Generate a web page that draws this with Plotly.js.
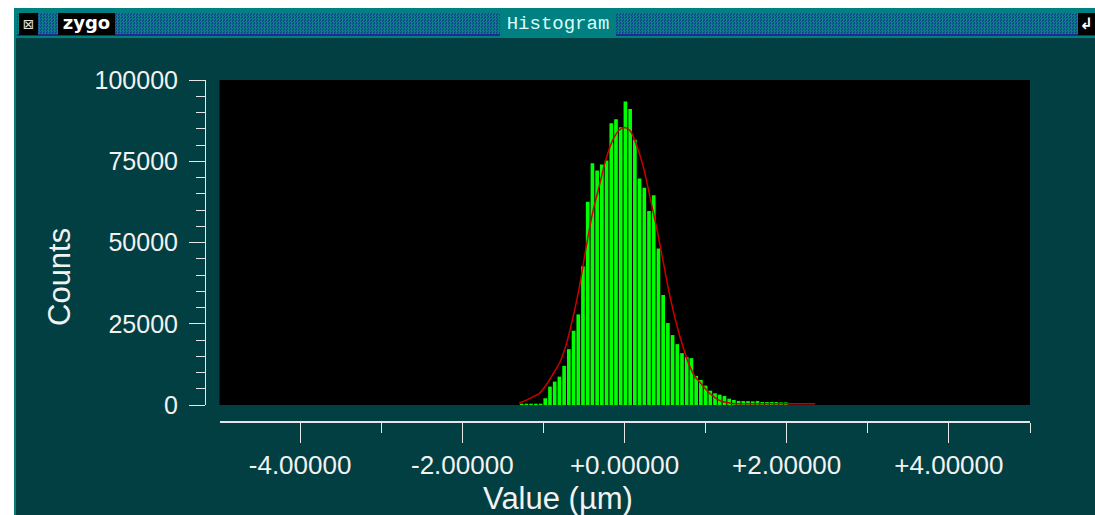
<!DOCTYPE html>
<html><head><meta charset="utf-8">
<script src="https://cdn.plot.ly/plotly-3.0.1.min.js"></script>
<style>
html,body{margin:0;padding:0;background:#ffffff;width:1095px;height:515px;overflow:hidden;}
#win{position:absolute;left:14px;top:8px;width:1081px;height:507px;background:#023f42;}
#frame{position:absolute;left:14px;top:8px;width:1081px;height:30px;background:#008080;}
#leftb{position:absolute;left:14px;top:8px;width:2px;height:507px;background:#0b7a7a;}
#tbar{position:absolute;left:17px;top:13px;width:1078px;height:21px;background-color:#0c6a84;
  background-image:repeating-conic-gradient(#0a8088 0 25%, #13488e 0 50%);background-size:3px 3px;border-bottom:2px solid #1c2c90;}
#icon{position:absolute;left:19px;top:13px;width:19px;height:22px;background:#000;color:#e0e0e0;font:14px "DejaVu Sans";line-height:22px;text-align:center;}
#logo{position:absolute;left:58px;top:13px;width:57px;height:22px;background:#000;color:#fff;font:bold 18px "DejaVu Sans";line-height:20px;text-align:center;}
#ttl{position:absolute;left:500px;top:13px;width:116px;height:23px;background:#008080;color:#d8ffff;font:19px "Liberation Mono";line-height:23px;text-align:center;}
#rico{position:absolute;left:1078px;top:13px;width:17px;height:22px;background:#000;color:#fff;font:bold 16px "DejaVu Sans";line-height:22px;text-align:center;}
#plot{position:absolute;left:0;top:0;width:1095px;height:515px;}
</style>
</head><body>
<div id="win"></div>
<div id="leftb"></div>
<div id="plot"></div>
<div id="frame"></div>
<div id="tbar"></div>
<div id="icon">⊠</div>
<div id="logo">zygo</div>
<div id="ttl">Histogram</div>
<div id="rico">↲</div>
<script>
// Histogram bins (regular bins: first bin centre and bin width, in µm)
const binStart = -1.268;
const binWidth = 0.05815;
const counts = [400, 400, 400, 400, 400, 2070, 5650, 7200, 8730, 12040,
  17180, 22840, 27870, 42690, 62560, 74380, 72120, 73980, 75210, 86730,
  87960, 85490, 93420, 91050, 81580, 69660, 66870, 59670, 64510, 48150,
  33850, 25210, 21510, 18730, 15950, 14720, 14410, 8950, 7720, 5960,
  4410, 3600, 3180, 2780, 1940, 1540, 1230, 1200, 1200, 1100,
  1200, 900, 900, 900, 900, 800, 800];

// Fitted curve
const fitX = [-1.30, -1.21, -1.13, -1.05, -0.97, -0.89, -0.80, -0.72, -0.64, -0.56,
  -0.47, -0.39, -0.31, -0.23, -0.14, -0.06, 0.00, 0.07, 0.15, 0.23,
  0.31, 0.40, 0.48, 0.56, 0.64, 0.72, 0.80, 0.87, 0.93, 0.99,
  1.05, 1.11, 1.17, 1.23, 1.34, 1.60, 2.00, 2.35];
const fitY = [600, 1500, 2500, 3600, 6000, 9200, 13000, 18500, 26500, 35800,
  49000, 59500, 67500, 75500, 81800, 84700, 85400, 84400, 79800, 73500,
  64500, 54000, 43700, 33500, 25000, 18000, 12200, 8700, 7000, 5200,
  3600, 2400, 1400, 900, 500, 400, 400, 400];

const xTickVals = [-4, -2, 0, 2, 4];
const xTickText = ['-4.00000', '-2.00000', '+0.00000', '+2.00000', '+4.00000'];
const yTickVals = [0, 25000, 50000, 75000, 100000];
const yTickText = ['0', '25000', '50000', '75000', '100000'];
const xTitle = 'Value (µm)';
const yTitle = 'Counts';

const W = 1095, H = 515;
const L = 190, R = 1030, T = 80, B = 445;
const pw = R - L, ph = B - T;
const px = v => (v - L) / pw;
const py = v => (B - v) / ph;

const axisCol = '#e6e6e6';
const textCol = '#f2f2f2';
const font = 'Liberation Sans, Arial, sans-serif';

const traces = [
  {type: 'bar', x0: binStart, dx: binWidth, y: counts,
   marker: {color: '#00ff00', line: {width: 0}}, hoverinfo: 'skip'},
  {type: 'scatter', mode: 'lines', x: fitX, y: fitY,
   line: {color: '#cc0000', width: 1.5, shape: 'spline'}, hoverinfo: 'skip'}
];

const layout = {
  width: W, height: H,
  margin: {l: L, r: W - R, t: T, b: H - B, pad: 0},
  paper_bgcolor: 'rgba(0,0,0,0)',
  plot_bgcolor: '#000000',
  showlegend: false,
  bargap: 0.22,
  xaxis: {
    domain: [px(219.5), 1], range: [-4.994, 5], anchor: 'free', position: py(422),
    showline: true, linecolor: axisCol, linewidth: 2,
    ticks: 'outside', ticklen: 20, tickwidth: 1, tickcolor: axisCol,
    tickmode: 'array', tickvals: xTickVals, ticktext: xTickText,
    tickfont: {family: font, size: 26, color: textCol}, ticklabelstandoff: 0,
    minor: {tickmode: 'linear', tick0: -5, dtick: 1, ticks: 'outside', ticklen: 10, tickwidth: 1, tickcolor: axisCol, showgrid: false},
    showgrid: false, zeroline: false, fixedrange: true
  },
  yaxis: {
    domain: [py(405), 1], range: [0, 100000], anchor: 'free', position: px(205),
    showline: true, linecolor: axisCol, linewidth: 1,
    ticks: 'outside', ticklen: 16, tickwidth: 1, tickcolor: axisCol,
    tickmode: 'array', tickvals: yTickVals, ticktext: yTickText,
    tickfont: {family: font, size: 25, color: textCol}, ticklabelstandoff: 6,
    minor: {tickmode: 'linear', tick0: 0, dtick: 5000, ticks: 'outside', ticklen: 9, tickwidth: 1, tickcolor: axisCol, showgrid: false},
    showgrid: false, zeroline: false, fixedrange: true
  },
  annotations: [
    {text: yTitle, xref: 'paper', yref: 'paper', x: px(59), y: py(277), textangle: -90,
     xanchor: 'center', yanchor: 'middle', showarrow: false, font: {family: font, size: 31, color: textCol}},
    {text: xTitle, xref: 'paper', yref: 'paper', x: px(558), y: py(498),
     xanchor: 'center', yanchor: 'middle', showarrow: false, font: {family: font, size: 31, color: textCol}}
  ]
};

Plotly.newPlot('plot', traces, layout, {displayModeBar: false, staticPlot: true});
</script>
</body></html>
